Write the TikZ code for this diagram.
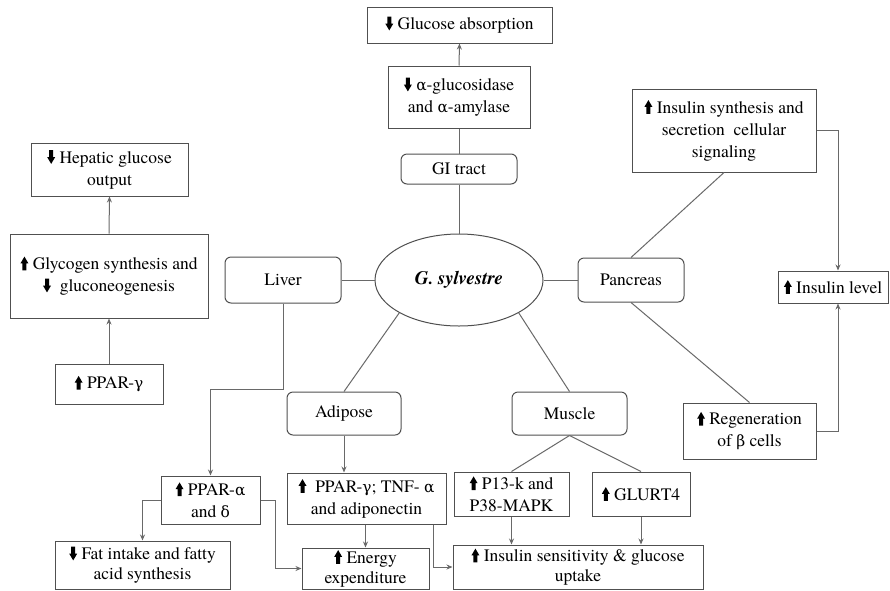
\documentclass[tikz,border=0pt]{standalone}
\usepackage{fontspec}
\setmainfont{texgyretermes}[Extension=.otf,UprightFont=*-regular,BoldFont=*-bold,ItalicFont=*-italic,BoldItalicFont=*-bolditalic]
\newfontfamily\grk{DejaVu Serif}[Scale=0.88]
\newcommand{\gra}{{\grk α}}
\newcommand{\grb}{{\grk β}}
\newcommand{\grg}{{\grk γ}}
\newcommand{\grd}{{\grk δ}}
\usetikzlibrary{shapes.geometric,arrows.meta,calc}
\definecolor{boxc}{RGB}{80,80,80}
\definecolor{linec}{RGB}{105,105,105}
\newcommand{\dnar}{\tikz[baseline=0pt,x=1pt,y=1pt]\fill[black] (-2,13) -- (2,13) -- (2,6) -- (4,6) -- (0,-0.8) -- (-4,6) -- (-2,6) -- cycle;}
\newcommand{\upar}{\tikz[baseline=0pt,x=1pt,y=1pt]\fill[black] (-2,-0.8) -- (2,-0.8) -- (2,6.2) -- (4,6.2) -- (0,13) -- (-4,6.2) -- (-2,6.2) -- cycle;}
\begin{document}
\begin{tikzpicture}[x=1pt,y=-1pt,
  font=\fontsize{17.5}{22}\selectfont,
  box/.style={draw=boxc,line width=1pt,align=center,inner sep=1pt,fill=white},
  organ/.style={box,rounded corners=6pt},
  con/.style={draw=linec,line width=1pt},
  arr/.style={con,-{Stealth[length=6pt,width=5pt]}}]
\useasboundingbox (0,0) rectangle (890,590);
\fill[white] (0,0) rectangle (890,590);
% nodes
\node[box,minimum width=185pt,minimum height=36pt] (gabs) at (459.5,25) {\dnar\ Glucose absorption};
\node[box,minimum width=142pt,minimum height=62pt] (galpha) at (459,97) {\dnar\ \gra-glucosidase\\and \gra-amylase};
\node[organ,minimum width=116pt,minimum height=30pt] (gi) at (459,169) {GI tract};
\node[draw=boxc,line width=1pt,ellipse,minimum width=168pt,minimum height=92pt,inner sep=0pt] (ell) at (459,280) {\fontsize{19}{22}\selectfont\bfseries\itshape G. sylvestre};
\node[organ,minimum width=116pt,minimum height=46pt] (liver) at (283,280) {Liver};
\node[organ,minimum width=106pt,minimum height=44pt] (pancreas) at (631,280) {Pancreas};
\node[box,minimum width=157pt,minimum height=53pt] (hep) at (109.5,169.5) {\dnar\ Hepatic glucose\\output};
\node[box,minimum width=198pt,minimum height=84pt] (glyc) at (109,276) {\upar\ Glycogen synthesis and\\\dnar\ \ gluconeogenesis};
\node[box,minimum width=108pt,minimum height=40pt] (pparg) at (109,384) {\upar\ PPAR-\grg};
\node[box,minimum width=184pt,minimum height=83pt] (ins) at (724,130.5) {\upar\ Insulin synthesis and\\secretion\ \ cellular\\signaling};
\node[box,minimum width=110pt,minimum height=32pt] (inslev) at (833,287) {\upar\ Insulin level};
\node[box,minimum width=133pt,minimum height=56pt] (regen) at (749.5,431) {\upar\ Regeneration\\of \grb\ cells};
\node[organ,minimum width=114pt,minimum height=43pt] (adipose) at (344,413.5) {Adipose};
\node[organ,minimum width=115pt,minimum height=43pt] (muscle) at (569.5,413.5) {Muscle};
\node[box,minimum width=99pt,minimum height=48pt] (ppara) at (210.5,500) {\upar\ PPAR-\gra\\and \grd};
\node[box,minimum width=159pt,minimum height=51pt] (ppartnf) at (366.5,498.5) {\upar\ \ PPAR-\grg; TNF- \gra\\and adiponectin};
\node[box,minimum width=115pt,minimum height=44pt] (p13) at (511.5,494) {\upar\ P13-k and\\P38-MAPK};
\node[box,minimum width=98pt,minimum height=44pt] (glut) at (641,494) {\upar\ GLURT4};
\node[box,minimum width=175pt,minimum height=48pt,font=\fontsize{17.5}{20}\selectfont] (fat) at (142.5,565) {\dnar\ Fat intake and fatty\\acid synthesis};
\node[box,minimum width=127pt,minimum height=41pt,font=\fontsize{17.5}{20}\selectfont] (energy) at (365.5,568.5) {\upar\ Energy\\expenditure};
\node[box,minimum width=250pt,minimum height=44pt,font=\fontsize{17.5}{20}\selectfont] (inssens) at (578,567) {\upar\ Insulin sensitivity \& glucose\\uptake};
% connectors
\draw[arr] (galpha.north) -- (gabs.south);
\draw[con] (gi.north) -- (galpha.south);
\draw[con] (ell.north) -- (gi.south);
\draw[con] (liver.east) -- (ell.west);
\draw[con] (ell.east) -- (pancreas.west);
\draw[con] (ell.south west) -- (adipose.north);
\draw[con] (ell.south east) -- (muscle.north);
\draw[arr] (glyc.north) -- (hep.south);
\draw[arr] (pparg.north) -- (glyc.south);
\draw[arr] (liver.south) -- ++(0,86) -| (ppara.north);
\draw[arr] (adipose.south) -- (adipose.south |- ppartnf.north);
\draw[arr] (ppartnf.south -| energy.north) -- (energy.north);
\draw[arr] ($(ppartnf.south east)+(-13,0)$) |- (inssens.west);
\draw[arr] (ppara.west) -| (fat.north);
\draw[arr] (ppara.east) -- ++(15,0) |- (energy.west);
\draw[con] (muscle.south) -- (p13.north);
\draw[con] (muscle.south) -- (glut.north);
\draw[arr] (p13.south) -- (p13.south |- inssens.north);
\draw[arr] (glut.south) -- (glut.south |- inssens.north);
\draw[con] (pancreas.north) -- (ins.south);
\draw[con] (pancreas.south) -- (regen.north);
\draw[arr] (ins.east) -| ($(inslev.north)+(5,0)$);
\draw[arr] (regen.east) -| ($(inslev.south)+(5,0)$);
\end{tikzpicture}
\end{document}
